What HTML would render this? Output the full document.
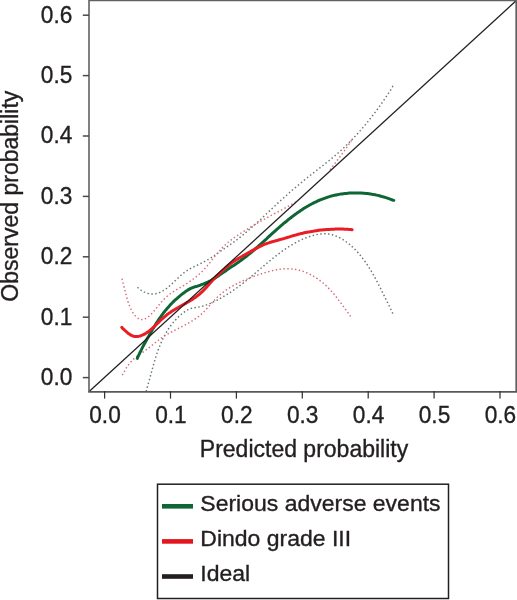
<!DOCTYPE html>
<html><head><meta charset="utf-8"><style>
html,body{margin:0;padding:0;background:#fff;}
svg{display:block;}
text{font-family:"Liberation Sans",Arial,Helvetica,sans-serif;font-size:22px;fill:#231f20;stroke:#231f20;stroke-width:0.35px;}
.tk{font-size:24.4px;} .ax{font-size:23px;}
</style></head><body>
<svg width="517" height="600" viewBox="0 0 517 600">
<rect width="517" height="600" fill="#fff"/>
<defs><clipPath id="pc"><rect x="89" y="0" width="427" height="391"/></clipPath></defs>
<g clip-path="url(#pc)" fill="none" stroke-linejoin="round">
<path d="M146.30,391.50 L146.42,389.96 L146.86,388.53 L147.29,387.09 L147.71,385.65 L148.12,384.21 L148.53,382.76 L148.94,381.31 L149.34,379.86 L149.74,378.40 L150.14,376.94 L150.54,375.48 L150.93,374.02 L151.33,372.56 L151.73,371.10 L152.13,369.64 L152.53,368.18 L152.94,366.72 L153.35,365.26 L153.76,363.80 L154.19,362.35 L154.62,360.90 L155.05,359.45 L155.50,358.00 L155.95,356.56 L156.42,355.12 L156.89,353.69 L157.38,352.27 L157.88,350.85 L158.40,349.43 L158.93,348.02 L159.47,346.62 L160.03,345.23 L160.61,343.84 L161.20,342.47 L161.81,341.10 L162.44,339.74 L163.09,338.39 L163.77,337.05 L164.46,335.72 L165.18,334.40 L165.91,333.09 L166.68,331.80 L167.46,330.52 L168.28,329.25 L169.12,327.99 L169.98,326.75 L170.87,325.52 L171.79,324.31 L172.74,323.12 L173.71,321.94 L174.71,320.78 L175.75,319.64 L176.81,318.52 L177.90,317.43 L179.03,316.35 L180.18,315.29 L181.37,314.26 L182.59,313.26 L183.83,312.31 L185.10,311.41 L186.40,310.59 L187.71,309.85 L189.04,309.21 L190.39,308.69 L191.75,308.29 L193.12,307.98 L194.50,307.74 L195.89,307.53 L197.28,307.32 L198.67,307.06 L200.06,306.76 L201.46,306.42 L202.85,306.03 L204.24,305.60 L205.62,305.14 L207.01,304.64 L208.39,304.10 L209.78,303.54 L211.15,302.94 L212.53,302.32 L213.90,301.68 L215.27,301.01 L216.63,300.32 L217.99,299.61 L219.34,298.89 L220.68,298.15 L222.02,297.40 L223.35,296.64 L224.68,295.86 L226.00,295.07 L227.30,294.26 L228.60,293.45 L229.90,292.62 L231.18,291.78 L232.45,290.93 L233.71,290.08 L234.96,289.21 L236.20,288.33 L237.43,287.45 L238.65,286.55 L239.86,285.65 L241.06,284.74 L242.25,283.83 L243.44,282.91 L244.61,281.98 L245.78,281.04 L246.95,280.10 L248.10,279.16 L249.26,278.21 L250.40,277.26 L251.55,276.30 L252.69,275.34 L253.83,274.38 L254.96,273.42 L256.09,272.45 L257.23,271.48 L258.36,270.51 L259.49,269.54 L260.63,268.57 L261.76,267.59 L262.90,266.62 L264.04,265.65 L265.18,264.68 L266.32,263.71 L267.47,262.75 L268.63,261.78 L269.79,260.82 L270.95,259.86 L272.13,258.91 L273.31,257.96 L274.49,257.01 L275.69,256.07 L276.89,255.14 L278.10,254.21 L279.31,253.30 L280.53,252.39 L281.77,251.49 L283.01,250.60 L284.25,249.73 L285.51,248.87 L286.77,248.02 L288.05,247.18 L289.33,246.37 L290.62,245.56 L291.92,244.78 L293.22,244.01 L294.54,243.26 L295.87,242.53 L297.21,241.82 L298.55,241.13 L299.91,240.46 L301.27,239.82 L302.65,239.20 L304.04,238.60 L305.43,238.03 L306.84,237.49 L308.26,236.97 L309.69,236.48 L311.12,236.02 L312.57,235.60 L314.03,235.21 L315.49,234.86 L316.95,234.55 L318.42,234.29 L319.89,234.08 L321.36,233.93 L322.84,233.83 L324.30,233.79 L325.77,233.82 L327.23,233.91 L328.69,234.07 L330.14,234.30 L331.57,234.61 L333.00,235.00 L334.42,235.45 L335.83,235.97 L337.22,236.55 L338.60,237.19 L339.95,237.88 L341.30,238.62 L342.62,239.41 L343.92,240.23 L345.20,241.10 L346.45,241.99 L347.69,242.92 L348.89,243.86 L350.07,244.84 L351.23,245.84 L352.36,246.86 L353.47,247.90 L354.56,248.96 L355.62,250.04 L356.67,251.14 L357.69,252.26 L358.69,253.40 L359.67,254.55 L360.64,255.72 L361.58,256.90 L362.51,258.09 L363.42,259.30 L364.31,260.52 L365.19,261.75 L366.05,262.99 L366.89,264.25 L367.73,265.51 L368.54,266.77 L369.35,268.05 L370.14,269.33 L370.92,270.62 L371.69,271.92 L372.45,273.22 L373.19,274.52 L373.93,275.83 L374.66,277.14 L375.38,278.46 L376.09,279.77 L376.80,281.10 L377.49,282.42 L378.18,283.75 L378.87,285.07 L379.55,286.41 L380.23,287.74 L380.90,289.08 L381.57,290.42 L382.24,291.76 L382.90,293.11 L383.57,294.46 L384.23,295.81 L384.89,297.16 L385.55,298.52 L386.22,299.88 L386.88,301.24 L387.55,302.60 L388.22,303.97 L388.89,305.34 L389.57,306.71 L390.25,308.08 L390.93,309.46 L391.62,310.84 L392.32,312.22 L392.70,313.60" stroke="#62786c" stroke-width="1.45" stroke-dasharray="1.45 2.4396"/>
<path d="M122.20,375.20 L123.01,373.98 L123.68,372.66 L124.39,371.33 L125.14,369.99 L125.93,368.66 L126.76,367.34 L127.63,366.04 L128.54,364.77 L129.48,363.54 L130.46,362.35 L131.47,361.21 L132.52,360.12 L133.60,359.08 L134.72,358.10 L135.85,357.16 L137.02,356.26 L138.20,355.39 L139.40,354.54 L140.61,353.71 L141.82,352.88 L143.05,352.05 L144.27,351.20 L145.49,350.34 L146.70,349.45 L147.91,348.53 L149.12,347.60 L150.32,346.65 L151.52,345.69 L152.72,344.72 L153.92,343.75 L155.13,342.79 L156.34,341.83 L157.55,340.89 L158.77,339.96 L160.00,339.06 L161.24,338.18 L162.49,337.34 L163.75,336.51 L165.02,335.72 L166.30,334.94 L167.59,334.19 L168.88,333.45 L170.19,332.72 L171.50,332.01 L172.82,331.31 L174.14,330.61 L175.47,329.92 L176.81,329.23 L178.15,328.55 L179.49,327.86 L180.83,327.18 L182.17,326.49 L183.51,325.79 L184.85,325.09 L186.17,324.37 L187.49,323.65 L188.81,322.91 L190.11,322.16 L191.40,321.39 L192.68,320.60 L193.94,319.79 L195.19,318.96 L196.42,318.11 L197.63,317.23 L198.82,316.32 L199.98,315.38 L201.13,314.41 L202.25,313.41 L203.34,312.37 L204.41,311.30 L205.46,310.20 L206.49,309.08 L207.50,307.94 L208.51,306.79 L209.51,305.63 L210.51,304.47 L211.52,303.31 L212.53,302.15 L213.55,301.01 L214.58,299.89 L215.64,298.79 L216.71,297.72 L217.81,296.68 L218.94,295.67 L220.08,294.69 L221.24,293.73 L222.42,292.80 L223.62,291.89 L224.84,291.01 L226.07,290.15 L227.32,289.31 L228.58,288.49 L229.85,287.70 L231.13,286.92 L232.43,286.16 L233.73,285.42 L235.05,284.70 L236.38,284.00 L237.72,283.31 L239.06,282.64 L240.42,281.98 L241.79,281.34 L243.17,280.72 L244.55,280.11 L245.94,279.51 L247.34,278.92 L248.75,278.35 L250.17,277.79 L251.59,277.24 L253.02,276.70 L254.46,276.18 L255.90,275.66 L257.34,275.15 L258.80,274.65 L260.25,274.16 L261.71,273.68 L263.18,273.21 L264.65,272.75 L266.12,272.30 L267.59,271.88 L269.07,271.47 L270.55,271.08 L272.04,270.72 L273.52,270.37 L275.01,270.06 L276.49,269.77 L277.98,269.52 L279.47,269.29 L280.96,269.10 L282.44,268.95 L283.93,268.83 L285.42,268.75 L286.90,268.71 L288.39,268.72 L289.87,268.77 L291.35,268.87 L292.82,269.02 L294.29,269.22 L295.76,269.46 L297.22,269.75 L298.68,270.09 L300.13,270.48 L301.57,270.90 L303.00,271.37 L304.43,271.88 L305.84,272.43 L307.24,273.02 L308.62,273.65 L310.00,274.31 L311.36,275.01 L312.70,275.75 L314.02,276.51 L315.33,277.31 L316.62,278.14 L317.89,279.00 L319.14,279.89 L320.37,280.80 L321.57,281.74 L322.76,282.71 L323.91,283.70 L325.05,284.71 L326.16,285.74 L327.25,286.80 L328.32,287.87 L329.37,288.96 L330.40,290.07 L331.42,291.19 L332.42,292.32 L333.40,293.47 L334.37,294.64 L335.33,295.81 L336.28,296.99 L337.21,298.18 L338.14,299.38 L339.05,300.58 L339.96,301.79 L340.87,303.00 L341.77,304.22 L342.66,305.44 L343.55,306.65 L344.44,307.87 L345.33,309.08 L346.22,310.29 L347.11,311.50 L348.00,312.70 L348.90,313.89 L349.80,315.08 L350.50,316.50" stroke="#d86c7a" stroke-width="1.45" stroke-dasharray="1.45 2.4245"/>
<path d="M137.50,287.30 L138.50,288.19 L139.82,289.29 L141.18,290.28 L142.55,291.15 L143.94,291.90 L145.35,292.53 L146.77,293.05 L148.19,293.46 L149.62,293.75 L151.04,293.92 L152.46,293.99 L153.87,293.94 L155.27,293.78 L156.64,293.50 L158.00,293.12 L159.33,292.64 L160.65,292.07 L161.94,291.41 L163.22,290.67 L164.48,289.87 L165.72,289.00 L166.94,288.08 L168.15,287.12 L169.34,286.12 L170.51,285.09 L171.67,284.04 L172.82,282.97 L173.95,281.90 L175.08,280.82 L176.20,279.75 L177.32,278.68 L178.45,277.62 L179.57,276.58 L180.70,275.55 L181.85,274.56 L183.00,273.59 L184.18,272.66 L185.37,271.77 L186.58,270.92 L187.82,270.12 L189.08,269.36 L190.35,268.63 L191.65,267.93 L192.95,267.26 L194.27,266.61 L195.59,265.96 L196.92,265.33 L198.25,264.70 L199.59,264.06 L200.92,263.41 L202.24,262.75 L203.56,262.07 L204.88,261.37 L206.18,260.65 L207.48,259.90 L208.77,259.14 L210.06,258.35 L211.34,257.55 L212.61,256.72 L213.88,255.88 L215.15,255.02 L216.41,254.14 L217.66,253.27 L218.92,252.38 L220.17,251.50 L221.41,250.63 L222.66,249.77 L223.90,248.92 L225.14,248.07 L226.37,247.23 L227.61,246.39 L228.83,245.56 L230.05,244.72 L231.27,243.88 L232.48,243.03 L233.69,242.17 L234.89,241.30 L236.09,240.42 L237.28,239.52 L238.46,238.61 L239.64,237.68 L240.81,236.73 L241.97,235.77 L243.13,234.81 L244.28,233.83 L245.43,232.84 L246.57,231.85 L247.71,230.85 L248.84,229.85 L249.97,228.85 L251.09,227.86 L252.22,226.86 L253.33,225.87 L254.45,224.89 L255.56,223.90 L256.67,222.92 L257.78,221.93 L258.88,220.94 L259.99,219.94 L261.09,218.93 L262.19,217.91 L263.29,216.88 L264.39,215.84 L265.49,214.80 L266.59,213.75 L267.69,212.71 L268.79,211.66 L269.89,210.61 L270.99,209.57 L272.09,208.53 L273.19,207.50 L274.29,206.46 L275.40,205.43 L276.51,204.40 L277.61,203.37 L278.72,202.35 L279.83,201.33 L280.94,200.31 L282.06,199.29 L283.17,198.28 L284.29,197.27 L285.41,196.27 L286.53,195.26 L287.65,194.26 L288.78,193.27 L289.91,192.27 L291.04,191.28 L292.17,190.29 L293.31,189.31 L294.45,188.33 L295.59,187.35 L296.73,186.38 L297.88,185.41 L299.03,184.44 L300.19,183.48 L301.34,182.52 L302.50,181.57 L303.67,180.61 L304.84,179.67 L306.01,178.72 L307.18,177.78 L308.36,176.84 L309.54,175.91 L310.73,174.98 L311.91,174.05 L313.10,173.12 L314.29,172.20 L315.48,171.27 L316.67,170.35 L317.86,169.42 L319.06,168.49 L320.25,167.57 L321.44,166.64 L322.62,165.71 L323.81,164.78 L324.99,163.84 L326.18,162.91 L327.35,161.97 L328.53,161.02 L329.70,160.07 L330.87,159.12 L332.03,158.16 L333.19,157.19 L334.34,156.22 L335.49,155.24 L336.63,154.26 L337.76,153.26 L338.89,152.26 L340.01,151.26 L341.12,150.24 L342.23,149.22 L343.33,148.19 L344.42,147.16 L345.51,146.12 L346.59,145.07 L347.66,144.01 L348.73,142.95 L349.79,141.88 L350.85,140.80 L351.89,139.72 L352.94,138.64 L353.97,137.54 L355.00,136.44 L356.03,135.34 L357.05,134.22 L358.06,133.11 L359.06,131.98 L360.06,130.86 L361.06,129.72 L362.05,128.58 L363.03,127.44 L364.00,126.29 L364.97,125.13 L365.94,123.97 L366.90,122.81 L367.85,121.64 L368.79,120.47 L369.74,119.29 L370.67,118.11 L371.60,116.92 L372.53,115.73 L373.44,114.53 L374.36,113.33 L375.26,112.13 L376.17,110.92 L377.06,109.71 L377.95,108.49 L378.84,107.27 L379.72,106.05 L380.60,104.82 L381.47,103.59 L382.33,102.36 L383.19,101.12 L384.04,99.89 L384.89,98.64 L385.74,97.40 L386.57,96.15 L387.41,94.90 L388.24,93.65 L389.06,92.39 L389.88,91.13 L390.69,89.87 L391.50,88.61 L392.30,87.35 L392.90,85.90" stroke="#62786c" stroke-width="1.45" stroke-dasharray="1.45 2.4692"/>
<path d="M122.00,278.60 L122.28,280.12 L122.70,281.64 L123.10,283.13 L123.49,284.59 L123.86,286.03 L124.22,287.45 L124.57,288.87 L124.92,290.28 L125.27,291.70 L125.62,293.13 L125.98,294.58 L126.36,296.04 L126.76,297.51 L127.17,299.00 L127.61,300.48 L128.08,301.97 L128.58,303.45 L129.12,304.92 L129.70,306.38 L130.33,307.82 L131.00,309.23 L131.73,310.62 L132.52,311.98 L133.36,313.30 L134.27,314.58 L135.24,315.80 L136.27,316.90 L137.35,317.87 L138.48,318.67 L139.65,319.25 L140.86,319.58 L142.09,319.64 L143.34,319.46 L144.60,319.07 L145.85,318.48 L147.09,317.73 L148.30,316.85 L149.48,315.86 L150.63,314.78 L151.75,313.62 L152.85,312.41 L153.91,311.17 L154.96,309.92 L155.97,308.67 L156.96,307.44 L157.94,306.23 L158.90,305.05 L159.86,303.88 L160.82,302.74 L161.78,301.62 L162.75,300.53 L163.73,299.46 L164.74,298.42 L165.77,297.42 L166.83,296.44 L167.94,295.50 L169.08,294.59 L170.27,293.72 L171.49,292.87 L172.75,292.05 L174.03,291.24 L175.33,290.45 L176.65,289.67 L177.97,288.90 L179.30,288.13 L180.63,287.36 L181.96,286.58 L183.27,285.79 L184.57,284.99 L185.86,284.18 L187.14,283.36 L188.40,282.52 L189.65,281.67 L190.89,280.80 L192.11,279.92 L193.31,279.03 L194.50,278.11 L195.68,277.18 L196.83,276.23 L197.97,275.26 L199.10,274.28 L200.20,273.27 L201.29,272.24 L202.35,271.19 L203.40,270.12 L204.43,269.02 L205.44,267.91 L206.44,266.77 L207.42,265.63 L208.39,264.46 L209.35,263.29 L210.31,262.11 L211.26,260.93 L212.21,259.74 L213.15,258.54 L214.10,257.35 L215.05,256.17 L216.01,254.99 L216.97,253.81 L217.94,252.65 L218.93,251.50 L219.92,250.36 L220.94,249.24 L221.97,248.14 L223.01,247.07 L224.08,246.01 L225.17,244.98 L226.28,243.98 L227.41,242.99 L228.56,242.03 L229.73,241.08 L230.91,240.15 L232.10,239.24 L233.31,238.35 L234.53,237.47 L235.76,236.60 L237.00,235.75 L238.25,234.90 L239.51,234.07 L240.78,233.24 L242.05,232.42 L243.33,231.61 L244.61,230.81 L245.90,230.01 L247.18,229.21 L248.47,228.42 L249.77,227.63 L251.06,226.85 L252.36,226.07 L253.66,225.29 L254.96,224.52 L256.27,223.76 L257.58,223.00 L258.89,222.24 L260.20,221.49 L261.51,220.75 L262.82,220.00 L264.14,219.27 L265.46,218.54 L266.77,217.81 L268.09,217.09 L269.42,216.37 L270.74,215.66 L272.06,214.95 L273.39,214.24 L274.71,213.54 L276.04,212.84 L277.36,212.13 L278.69,211.43 L280.02,210.72 L281.34,210.02 L282.67,209.30 L284.00,208.59 L285.32,207.87 L286.65,207.14 L287.98,206.41 L289.31,205.66 L290.63,204.91 L291.96,204.16 L293.28,203.39 L294.61,202.61 L295.90,201.90" stroke="#d86c7a" stroke-width="1.45" stroke-dasharray="1.45 2.4612"/>
<path d="M330.10,169.90 L330.99,168.59 L331.94,167.31 L332.90,166.04 L333.86,164.78 L334.82,163.51 L335.78,162.25 L336.74,160.99 L337.71,159.72 L338.67,158.46 L339.63,157.20 L340.59,155.93 L341.54,154.66 L342.49,153.38 L343.43,152.10 L344.36,150.82 L345.29,149.53 L346.20,148.23 L347.11,146.92 L348.00,145.61 L348.88,144.28 L349.74,142.95 L350.59,141.60 L351.50,140.30" stroke="#d86c7a" stroke-width="1.45" stroke-dasharray="1.45 2.4487"/>
<path d="M137.3,358.4 L137.8,357.0 L138.5,355.6 L139.2,354.2 L139.8,352.8 L140.5,351.5 L141.2,350.1 L141.8,348.8 L142.5,347.4 L143.2,346.1 L143.9,344.8 L144.6,343.4 L145.4,342.1 L146.1,340.8 L146.8,339.5 L147.5,338.2 L148.3,336.9 L149.0,335.6 L149.7,334.3 L150.5,332.9 L151.3,331.6 L152.0,330.3 L152.8,329.0 L153.6,327.8 L154.3,326.5 L155.1,325.2 L155.9,323.9 L156.7,322.6 L157.6,321.4 L158.4,320.1 L159.2,318.9 L160.1,317.6 L161.0,316.4 L161.9,315.1 L162.8,313.9 L163.7,312.7 L164.6,311.5 L165.5,310.4 L166.5,309.2 L167.5,308.0 L168.5,306.9 L169.5,305.8 L170.5,304.6 L171.6,303.5 L172.6,302.5 L173.7,301.4 L174.8,300.3 L175.9,299.3 L177.1,298.3 L178.2,297.3 L179.4,296.3 L180.6,295.3 L181.8,294.4 L183.0,293.4 L184.3,292.5 L185.5,291.6 L186.8,290.7 L188.1,289.9 L189.4,289.1 L190.7,288.4 L192.1,287.8 L193.4,287.3 L194.8,286.9 L196.1,286.5 L197.5,286.1 L198.8,285.6 L200.2,285.2 L201.5,284.7 L202.9,284.2 L204.2,283.7 L205.5,283.1 L206.9,282.5 L208.2,281.9 L209.6,281.2 L210.9,280.5 L212.2,279.7 L213.6,278.9 L214.9,278.1 L216.2,277.3 L217.5,276.4 L218.8,275.5 L220.1,274.6 L221.4,273.7 L222.7,272.8 L224.0,271.9 L225.3,271.1 L226.5,270.2 L227.8,269.3 L229.0,268.5 L230.3,267.6 L231.5,266.8 L232.8,266.0 L234.0,265.2 L235.2,264.4 L236.4,263.6 L237.6,262.7 L238.8,261.9 L240.0,261.1 L241.2,260.2 L242.4,259.3 L243.6,258.4 L244.8,257.5 L246.0,256.6 L247.2,255.7 L248.4,254.7 L249.5,253.8 L250.7,252.8 L251.9,251.8 L253.0,250.8 L254.2,249.8 L255.3,248.8 L256.4,247.8 L257.6,246.8 L258.7,245.8 L259.8,244.8 L261.0,243.8 L262.1,242.8 L263.2,241.8 L264.3,240.8 L265.4,239.8 L266.6,238.8 L267.7,237.7 L268.8,236.7 L269.9,235.7 L271.0,234.7 L272.1,233.7 L273.2,232.7 L274.4,231.7 L275.5,230.6 L276.6,229.6 L277.7,228.6 L278.9,227.6 L280.0,226.7 L281.1,225.7 L282.3,224.7 L283.4,223.7 L284.6,222.7 L285.8,221.8 L286.9,220.8 L288.1,219.8 L289.3,218.9 L290.5,218.0 L291.7,217.0 L292.9,216.1 L294.1,215.2 L295.3,214.3 L296.6,213.4 L297.8,212.5 L299.1,211.7 L300.3,210.8 L301.6,210.0 L302.8,209.1 L304.1,208.3 L305.4,207.5 L306.7,206.7 L308.0,206.0 L309.3,205.2 L310.7,204.5 L312.0,203.8 L313.3,203.1 L314.7,202.4 L316.0,201.8 L317.4,201.1 L318.8,200.5 L320.2,199.9 L321.6,199.3 L323.0,198.8 L324.4,198.3 L325.8,197.8 L327.2,197.3 L328.6,196.9 L330.1,196.4 L331.5,196.0 L333.0,195.6 L334.5,195.3 L335.9,195.0 L337.4,194.7 L338.9,194.4 L340.4,194.1 L341.9,193.9 L343.4,193.7 L344.9,193.5 L346.4,193.4 L347.9,193.2 L349.4,193.1 L350.9,193.0 L352.4,193.0 L353.9,192.9 L355.4,192.9 L356.9,192.9 L358.4,192.9 L360.0,193.0 L361.5,193.1 L363.0,193.2 L364.5,193.3 L366.0,193.4 L367.5,193.6 L369.0,193.8 L370.5,194.0 L372.0,194.3 L373.5,194.5 L375.0,194.8 L376.5,195.1 L377.9,195.4 L379.4,195.8 L380.9,196.2 L382.3,196.6 L383.8,197.0 L385.2,197.4 L386.7,197.9 L388.1,198.4 L389.5,198.9 L390.9,199.4 L392.4,200.0 L393.8,200.4" stroke="#0e6635" stroke-width="3.0" stroke-linecap="round"/>
<path d="M121.8,327.3 L122.6,328.3 L123.8,329.4 L125.0,330.5 L126.3,331.7 L127.5,332.7 L128.8,333.7 L130.1,334.6 L131.5,335.4 L132.8,336.0 L134.2,336.4 L135.5,336.5 L136.9,336.6 L138.3,336.4 L139.6,336.1 L140.9,335.7 L142.2,335.2 L143.5,334.6 L144.8,333.9 L146.0,333.2 L147.3,332.3 L148.5,331.5 L149.7,330.6 L150.8,329.6 L152.0,328.6 L153.1,327.6 L154.3,326.5 L155.4,325.4 L156.5,324.3 L157.7,323.2 L158.8,322.1 L159.9,321.0 L161.0,319.9 L162.2,318.9 L163.3,317.8 L164.5,316.8 L165.7,315.8 L166.9,314.8 L168.1,313.9 L169.3,313.0 L170.6,312.2 L171.8,311.3 L173.1,310.5 L174.4,309.7 L175.6,309.0 L176.9,308.2 L178.2,307.5 L179.5,306.7 L180.8,306.0 L182.1,305.3 L183.4,304.6 L184.7,303.9 L186.0,303.1 L187.2,302.4 L188.5,301.7 L189.8,300.9 L191.0,300.2 L192.3,299.4 L193.5,298.6 L194.7,297.8 L196.0,296.9 L197.1,296.0 L198.3,295.1 L199.5,294.2 L200.6,293.2 L201.7,292.1 L202.8,291.1 L203.9,290.0 L205.0,288.9 L206.0,287.7 L207.1,286.6 L208.1,285.4 L209.1,284.3 L210.2,283.1 L211.2,281.9 L212.2,280.8 L213.3,279.6 L214.3,278.5 L215.3,277.4 L216.4,276.4 L217.5,275.3 L218.5,274.3 L219.6,273.3 L220.7,272.3 L221.8,271.3 L222.9,270.3 L224.1,269.3 L225.2,268.2 L226.4,267.2 L227.5,266.2 L228.7,265.2 L229.9,264.2 L231.1,263.3 L232.3,262.4 L233.5,261.6 L234.7,260.7 L235.9,259.9 L237.2,259.2 L238.4,258.4 L239.7,257.7 L240.9,257.0 L242.2,256.3 L243.5,255.5 L244.8,254.8 L246.1,254.1 L247.4,253.4 L248.7,252.6 L250.1,251.9 L251.4,251.1 L252.7,250.3 L254.1,249.6 L255.4,248.8 L256.8,248.1 L258.2,247.4 L259.5,246.7 L260.9,246.0 L262.3,245.4 L263.7,244.7 L265.1,244.2 L266.5,243.6 L267.9,243.1 L269.3,242.7 L270.7,242.2 L272.2,241.8 L273.6,241.4 L275.0,241.0 L276.4,240.6 L277.9,240.2 L279.3,239.8 L280.8,239.4 L282.2,239.0 L283.7,238.6 L285.1,238.1 L286.6,237.7 L288.0,237.3 L289.5,236.8 L291.0,236.4 L292.4,235.9 L293.9,235.5 L295.4,235.1 L296.8,234.7 L298.3,234.3 L299.8,233.9 L301.2,233.5 L302.7,233.2 L304.2,232.8 L305.7,232.5 L307.1,232.2 L308.6,231.9 L310.1,231.7 L311.6,231.4 L313.1,231.2 L314.5,230.9 L316.0,230.7 L317.5,230.5 L319.0,230.3 L320.5,230.1 L322.0,230.0 L323.5,229.8 L325.0,229.7 L326.5,229.6 L328.0,229.5 L329.5,229.4 L331.0,229.3 L332.5,229.2 L334.0,229.2 L335.5,229.1 L337.0,229.1 L338.5,229.1 L340.0,229.1 L341.5,229.1 L343.0,229.1 L344.6,229.2 L346.1,229.2 L347.6,229.3 L349.1,229.4 L350.7,229.5 L352.1,229.8" stroke="#ea1c24" stroke-width="3.0" stroke-linecap="round"/>
<path d="M88,392.6 L516,0.8" stroke="#231f20" stroke-width="1.25"/>
</g>
<g stroke="#616161" stroke-width="1.6" fill="none">
<path d="M89,0.5 H516 M89,0 V392"/>
<path d="M516.3,0 V392" stroke-width="1.9"/>
<path d="M88.2,391.9 H517" stroke="#585858"/>
</g>
<g stroke="#4a4a4a" stroke-width="1.5">
<line x1="104.6" y1="391" x2="104.6" y2="398.6" stroke-width="1.25" stroke="#333"/><line x1="82.8" y1="377.6" x2="89" y2="377.6"/><line x1="170.5" y1="391" x2="170.5" y2="398.6" stroke-width="1.25" stroke="#333"/><line x1="82.8" y1="317.2" x2="89" y2="317.2"/><line x1="236.4" y1="391" x2="236.4" y2="398.6" stroke-width="1.25" stroke="#333"/><line x1="82.8" y1="256.8" x2="89" y2="256.8"/><line x1="302.3" y1="391" x2="302.3" y2="398.6" stroke-width="1.25" stroke="#333"/><line x1="82.8" y1="196.4" x2="89" y2="196.4"/><line x1="368.2" y1="391" x2="368.2" y2="398.6" stroke-width="1.25" stroke="#333"/><line x1="82.8" y1="136.0" x2="89" y2="136.0"/><line x1="434.1" y1="391" x2="434.1" y2="398.6" stroke-width="1.25" stroke="#333"/><line x1="82.8" y1="75.6" x2="89" y2="75.6"/><line x1="500.0" y1="391" x2="500.0" y2="398.6" stroke-width="1.25" stroke="#333"/><line x1="82.8" y1="15.2" x2="89" y2="15.2"/>
</g>
<text class="tk" transform="translate(105.0,423.0) scale(0.93,1)" text-anchor="middle">0.0</text><text class="tk" transform="translate(170.9,423.0) scale(0.93,1)" text-anchor="middle">0.1</text><text class="tk" transform="translate(236.8,423.0) scale(0.93,1)" text-anchor="middle">0.2</text><text class="tk" transform="translate(302.7,423.0) scale(0.93,1)" text-anchor="middle">0.3</text><text class="tk" transform="translate(368.6,423.0) scale(0.93,1)" text-anchor="middle">0.4</text><text class="tk" transform="translate(434.5,423.0) scale(0.93,1)" text-anchor="middle">0.5</text><text class="tk" transform="translate(500.4,423.0) scale(0.93,1)" text-anchor="middle">0.6</text>
<text class="tk" transform="translate(72.3,385.0) scale(0.93,1)" text-anchor="end">0.0</text><text class="tk" transform="translate(72.3,324.6) scale(0.93,1)" text-anchor="end">0.1</text><text class="tk" transform="translate(72.3,264.2) scale(0.93,1)" text-anchor="end">0.2</text><text class="tk" transform="translate(72.3,203.8) scale(0.93,1)" text-anchor="end">0.3</text><text class="tk" transform="translate(72.3,143.4) scale(0.93,1)" text-anchor="end">0.4</text><text class="tk" transform="translate(72.3,83.0) scale(0.93,1)" text-anchor="end">0.5</text><text class="tk" transform="translate(72.3,22.6) scale(0.93,1)" text-anchor="end">0.6</text>
<text class="ax" x="304" y="457" text-anchor="middle">Predicted probability</text>
<text class="ax" transform="translate(18.0,196.2) rotate(-90)" text-anchor="middle">Observed probability</text>
<rect x="157.5" y="484.2" width="291" height="114.3" fill="none" stroke="#231f20" stroke-width="1.5"/>
<rect x="162" y="504" width="31" height="4.6" fill="#0e6635"/>
<rect x="162" y="539.1" width="31" height="4.6" fill="#e3161f"/>
<rect x="162" y="574.2" width="31" height="4.6" fill="#231f20"/>
<text transform="translate(200.3,511.2) scale(1.045,1)">Serious adverse events</text>
<text transform="translate(200.3,546.2) scale(1.045,1)">Dindo grade III</text>
<text transform="translate(200.3,581.4) scale(1.045,1)">Ideal</text>
</svg>
</body></html>
